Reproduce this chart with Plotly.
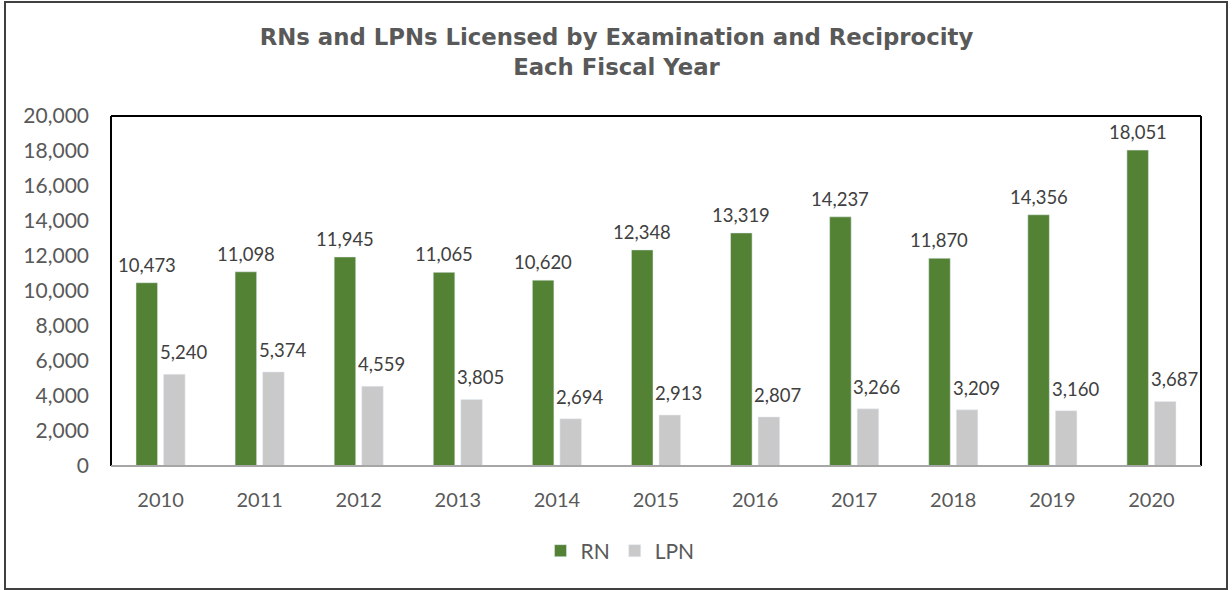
import plotly.graph_objects as go

years = ["2010", "2011", "2012", "2013", "2014", "2015", "2016", "2017", "2018", "2019", "2020"]
rn = [10473, 11098, 11945, 11065, 10620, 12348, 13319, 14237, 11870, 14356, 18051]
lpn = [5240, 5374, 4559, 3805, 2694, 2913, 2807, 3266, 3209, 3160, 3687]
y_ticks = [0, 2000, 4000, 6000, 8000, 10000, 12000, 14000, 16000, 18000, 20000]

W, H = 1232, 590
L, R, T, B = 111, 1201, 116, 466
BARGAP, GROUPGAP = 0.444, 0.218

def px(p):
    return (p - L) / (R - L)

def py(p):
    return (B - p) / (B - T)

font_fam = "Lato, 'Open Sans', sans-serif"
txt_color = "#595959"
lbl_color = "#404040"

fig = go.Figure()
fig.add_trace(go.Bar(x=years, y=rn, name="RN", marker_color="#548235"))
fig.add_trace(go.Bar(x=years, y=lpn, name="LPN", marker_color="#C9C9C9"))

# data labels (Excel-style placement above each bar of the group);
# x is the category index on the category axis
cat_px = (R - L) / len(years)
half_slot = (1 - BARGAP) * cat_px / 4
annotations = []
for i, v in enumerate(rn):
    annotations.append(dict(
        x=i, y=v, xref="x", yref="y", text=f"{v:,}", showarrow=False,
        xanchor="center", yanchor="bottom", xshift=-half_slot, yshift=5,
        font=dict(size=18.5, color=lbl_color, family=font_fam)))
for i, v in enumerate(lpn):
    annotations.append(dict(
        x=i, y=v, xref="x", yref="y", text=f"{v:,}", showarrow=False,
        xanchor="center", yanchor="bottom", xshift=half_slot + 9, yshift=9,
        font=dict(size=18.5, color=lbl_color, family=font_fam)))

fig.update_layout(
    width=W, height=H,
    margin=dict(l=L, r=W - R, t=T, b=H - B),
    paper_bgcolor="white", plot_bgcolor="white",
    barmode="group", bargap=BARGAP, bargroupgap=GROUPGAP,
    title=dict(
        text="<b>RNs and LPNs Licensed by Examination and Reciprocity<br>Each Fiscal Year</b>",
        x=616.5 / W, xanchor="center", y=1 - 45 / H, yanchor="middle",
        font=dict(family="'DejaVu Sans', sans-serif", size=22.8, color=txt_color),
    ),
    showlegend=True,
    legend=dict(
        orientation="h", x=px(620), xanchor="center", y=py(551), yanchor="middle",
        font=dict(size=21, color=txt_color, family=font_fam),
        itemwidth=30, traceorder="normal",
    ),
    xaxis=dict(
        type="category", categoryorder="array", categoryarray=years,
        range=[-0.5, len(years) - 0.5],
        showgrid=False, showline=False, ticks="",
        tickfont=dict(size=20, color=txt_color, family=font_fam),
        ticklabelstandoff=20,
    ),
    yaxis=dict(
        range=[0, 20000], tickvals=y_ticks, tickformat=",",
        showgrid=False, showline=False, ticks="", zeroline=False,
        tickfont=dict(size=21, color=txt_color, family=font_fam),
        ticklabelstandoff=21,
    ),
    annotations=annotations,
    shapes=[
        dict(type="rect", xref="paper", yref="paper",
             x0=px(5), x1=px(1227), y0=py(589), y1=py(2),
             line=dict(color="#404040", width=2), layer="below"),
        dict(type="line", xref="paper", yref="paper", x0=0, x1=0, y0=0, y1=1,
             line=dict(color="black", width=2)),
        dict(type="line", xref="paper", yref="paper", x0=0, x1=1, y0=1, y1=1,
             line=dict(color="black", width=2)),
        dict(type="line", xref="paper", yref="paper", x0=1, x1=1, y0=0, y1=1,
             line=dict(color="black", width=2)),
        dict(type="line", xref="paper", yref="paper", x0=0, x1=1, y0=0, y1=0,
             line=dict(color="#A6A6A6", width=2)),
    ],
)

fig.write_html("out.html", config={"displayModeBar": False},
               post_script="document.body.style.margin='0';")
